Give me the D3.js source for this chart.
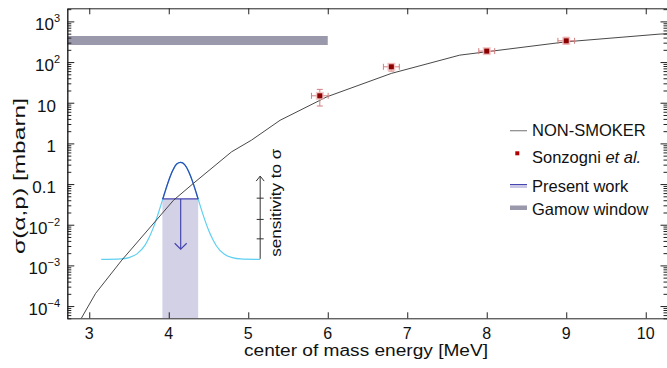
<!DOCTYPE html>
<html>
  <head>
    <meta charset="utf-8" />
    <script src="https://d3js.org/d3.v7.min.js"></script>
    <style>
      body { margin: 0; background: #fff; }
      text { font-family: "Liberation Sans", Arial, sans-serif; fill: #111; }
    </style>
  </head>
  <body>
    <script>
      // --- data ---
      const energyTicks = [3, 4, 5, 6, 7, 8, 9, 10];
      const sigmaTicks = [1e-4, 1e-3, 1e-2, 0.1, 1, 10, 100, 1000];
      const sigmaTickLabels = [["10", "\u22124"], ["10", "\u22123"], ["10", "\u22122"], ["0.1", ""], ["1", ""], ["10", ""], ["10", "2"], ["10", "3"]];

      // NON-SMOKER calculation
      const nonSmokerE = [2.90, 3.08, 3.41, 4.06, 4.31, 4.79, 5.04, 5.40, 5.99, 6.80, 7.66, 9.00, 10.18, 10.30];
      const nonSmokerSigma = [5.0e-5, 2.05e-4, 1.35e-3, 0.040, 0.104, 0.62, 1.2, 3.7, 14, 52.6, 148, 315, 488, 500];

      // Sonzogni et al. data points
      const sonzE = [5.90, 6.80, 8.00, 9.00];
      const sonzEerr = [0.105, 0.10, 0.10, 0.105];
      const sonzSigma = [14.8, 76.5, 186, 333];
      const sonzLo = [8.3, 60, 160, 277];
      const sonzHi = [21.3, 90.6, 208, 405];

      // present work: sensitivity profile and upper limit
      const profileE = [3.15, 3.40, 3.50, 3.60, 3.70, 3.75, 3.80, 3.85, 3.90, 3.95, 4.00, 4.05, 4.10, 4.15, 4.20, 4.25, 4.30, 4.35, 4.40, 4.45, 4.50, 4.55, 4.60, 4.70, 4.80, 4.90, 5.15];
      const profileSigma = [1.4e-3, 1.44e-3, 1.55e-3, 1.92e-3, 3.1e-3, 4.7e-3, 7.9e-3, 0.0149, 0.030, 0.062, 0.123, 0.215, 0.31, 0.34, 0.30, 0.204, 0.115, 0.057, 0.0275, 0.0137, 7.4e-3, 4.5e-3, 3.0e-3, 1.87e-3, 1.55e-3, 1.44e-3, 1.4e-3];
      const limitE = [3.92, 4.37];
      const limitSigma = 0.043;
      const arrowE = 4.15;
      const arrowTo = 2.5e-3;

      // sensitivity scale
      const sensE = 5.15;
      const sensRange = [1.45e-3, 0.157];
      const sensTicks = [4.5e-3, 0.0135, 0.045];

      // Gamow window
      const gamowE = [2.5, 6.0];
      const gamowSigma = 340;

      const legendLabels = ["NON-SMOKER", "Sonzogni", "Present work", "Gamow window"];

      // --- layout ---
      const width = 667, height = 368;
      const x = d3.scaleLinear().domain([2.72, 10.28]).range([67, 668]);
      const y = d3.scaleLog().domain([5e-5, 2100]).range([318.3, 8.3]);

      const svg = d3.select("body").append("svg")
        .attr("width", width).attr("height", height);

      svg.append("clipPath").attr("id", "plot")
        .append("rect").attr("x", 67).attr("y", 8.3).attr("width", 601).attr("height", 310);

      const plot = svg.append("g").attr("clip-path", "url(#plot)");

      // Gamow window band
      plot.append("line")
        .attr("x1", x(gamowE[0])).attr("x2", x(gamowE[1]))
        .attr("y1", y(gamowSigma)).attr("y2", y(gamowSigma))
        .attr("stroke", "#9a98ab").attr("stroke-width", 9);

      // present work shaded region
      plot.append("rect")
        .attr("x", x(limitE[0])).attr("width", x(limitE[1]) - x(limitE[0]))
        .attr("y", y(limitSigma)).attr("height", 318.3 - y(limitSigma))
        .attr("fill", "#d3d1e6");

      // profile: cyan everywhere, dark blue above the limit
      const profile = profileE.map((e, i) => [e, profileSigma[i]]);
      const profLine = d3.line().x(d => x(d[0])).y(d => y(d[1])).curve(d3.curveMonotoneX);
      plot.append("path").attr("d", profLine(profile))
        .attr("fill", "none").attr("stroke", "#5fd0f2").attr("stroke-width", 1.2);
      svg.append("clipPath").attr("id", "above")
        .append("rect").attr("x", 67).attr("y", 0).attr("width", 601).attr("height", y(limitSigma));
      svg.append("g").attr("clip-path", "url(#above)")
        .append("path").attr("d", profLine(profile))
        .attr("fill", "none").attr("stroke", "#2c4fb4").attr("stroke-width", 1.3);

      // upper limit line and arrow
      plot.append("line")
        .attr("x1", x(limitE[0])).attr("x2", x(limitE[1]))
        .attr("y1", y(limitSigma)).attr("y2", y(limitSigma))
        .attr("stroke", "#4646b0").attr("stroke-width", 1.3);
      plot.append("line")
        .attr("x1", x(arrowE)).attr("x2", x(arrowE))
        .attr("y1", y(limitSigma)).attr("y2", y(arrowTo))
        .attr("stroke", "#4646b0").attr("stroke-width", 1.2);
      plot.append("path")
        .attr("d", `M${x(arrowE) - 6},${y(arrowTo) - 6}L${x(arrowE)},${y(arrowTo)}L${x(arrowE) + 6},${y(arrowTo) - 6}`)
        .attr("fill", "none").attr("stroke", "#4646b0").attr("stroke-width", 1.2);

      // NON-SMOKER curve
      const ns = nonSmokerE.map((e, i) => [e, nonSmokerSigma[i]]);
      plot.append("path")
        .attr("d", d3.line().x(d => x(d[0])).y(d => y(d[1]))(ns))
        .attr("fill", "none").attr("stroke", "#333").attr("stroke-width", 0.9);

      // sensitivity scale
      const sx = x(sensE);
      svg.append("line").attr("x1", sx).attr("x2", sx)
        .attr("y1", y(sensRange[0])).attr("y2", y(sensRange[1]))
        .attr("stroke", "#333").attr("stroke-width", 1);
      svg.append("path")
        .attr("d", `M${sx - 4},${y(sensRange[1]) + 5}L${sx},${y(sensRange[1])}L${sx + 4},${y(sensRange[1]) + 5}`)
        .attr("fill", "none").attr("stroke", "#333").attr("stroke-width", 1);
      svg.selectAll(".sens-tick").data(sensTicks).join("line")
        .attr("class", "sens-tick")
        .attr("x1", sx - 3.5).attr("x2", sx + 3.5)
        .attr("y1", d => y(d)).attr("y2", d => y(d))
        .attr("stroke", "#333");
      svg.append("text")
        .attr("transform", `translate(281,${y(sensRange[0]) - 2}) rotate(-90)`)
        .attr("font-size", 15).attr("textLength", 108).attr("lengthAdjust", "spacingAndGlyphs")
        .text("sensitivity to \u03c3");

      // Sonzogni et al. points
      const sonz = svg.append("g").attr("clip-path", "url(#plot)");
      sonzE.forEach((e, i) => {
        const cx = x(e), cy = y(sonzSigma[i]);
        const g = sonz.append("g").attr("stroke", "#d37f7f").attr("stroke-width", 1);
        g.append("line").attr("x1", x(e - sonzEerr[i])).attr("x2", x(e + sonzEerr[i])).attr("y1", cy).attr("y2", cy);
        g.append("line").attr("x1", cx).attr("x2", cx).attr("y1", y(sonzLo[i])).attr("y2", y(sonzHi[i]));
        [e - sonzEerr[i], e + sonzEerr[i]].forEach(v => g.append("line")
          .attr("x1", x(v)).attr("x2", x(v)).attr("y1", cy - 3).attr("y2", cy + 3));
        [sonzLo[i], sonzHi[i]].forEach(v => g.append("line")
          .attr("x1", cx - 3).attr("x2", cx + 3).attr("y1", y(v)).attr("y2", y(v)));
        sonz.append("rect").attr("x", cx - 4).attr("y", cy - 4).attr("width", 8).attr("height", 8)
          .attr("fill", "#f2b9b9").attr("opacity", 0.8);
        sonz.append("rect").attr("x", cx - 2.5).attr("y", cy - 2.5).attr("width", 5).attr("height", 5)
          .attr("fill", "#8b0000");
      });

      // --- axes ---
      const axisColor = "#222";
      const minor = y.ticks().filter(v => !sigmaTicks.includes(v));

      function styleAxis(g) {
        g.select(".domain").attr("stroke", axisColor);
        g.selectAll(".tick line").attr("stroke", axisColor);
        g.selectAll(".tick text").remove();
      }

      svg.append("g").attr("transform", "translate(0,318.3)")
        .call(d3.axisBottom(x).tickValues(energyTicks).tickSizeInner(-6).tickSizeOuter(0)).call(styleAxis);
      svg.append("g").attr("transform", "translate(0,8.3)")
        .call(d3.axisTop(x).tickValues(energyTicks).tickSizeInner(-6).tickSizeOuter(0)).call(styleAxis);
      svg.append("g").attr("transform", "translate(67.3,0)")
        .call(d3.axisLeft(y).tickValues(sigmaTicks).tickSizeInner(-7).tickSizeOuter(0)).call(styleAxis);
      svg.append("g").attr("transform", "translate(67.3,0)")
        .call(d3.axisLeft(y).tickValues(minor).tickSizeInner(-4).tickSizeOuter(0)).call(styleAxis);
      svg.append("g").attr("transform", "translate(667.5,0)")
        .call(d3.axisRight(y).tickValues(sigmaTicks).tickSizeInner(-7).tickSizeOuter(0)).call(styleAxis);
      svg.append("g").attr("transform", "translate(667.5,0)")
        .call(d3.axisRight(y).tickValues(minor).tickSizeInner(-4).tickSizeOuter(0)).call(styleAxis);

      // x tick labels
      svg.selectAll(".xlab").data(energyTicks).join("text")
        .attr("class", "xlab")
        .attr("x", d => x(d)).attr("y", 338.5)
        .attr("text-anchor", "middle").attr("font-size", 16)
        .text(d => d);

      // y tick labels with superscripts
      sigmaTicks.forEach((v, i) => {
        const [base, sup] = sigmaTickLabels[i];
        const t = svg.append("text")
          .attr("x", sup ? 60 : 56).attr("y", y(v) + 9)
          .attr("text-anchor", "end").attr("font-size", 17);
        t.append("tspan").text(base);
        if (sup) t.append("tspan").attr("font-size", 11).attr("dy", -8).text(sup);
      });

      // axis titles
      svg.append("text")
        .attr("x", 244).attr("y", 356)
        .attr("font-size", 16).attr("textLength", 244).attr("lengthAdjust", "spacingAndGlyphs")
        .text("center of mass energy [MeV]");
      svg.append("text")
        .attr("transform", "translate(25,254) rotate(-90)")
        .attr("font-size", 17).attr("textLength", 156).attr("lengthAdjust", "spacingAndGlyphs")
        .text("\u03c3(\u03b1,p) [mbarn]");

      // --- legend ---
      const lg = svg.append("g");
      lg.append("line").attr("x1", 510).attr("x2", 527).attr("y1", 130.7).attr("y2", 130.7)
        .attr("stroke", "#888").attr("stroke-width", 1.2);
      lg.append("rect").attr("x", 515.3).attr("y", 151.3).attr("width", 4).attr("height", 4).attr("fill", "#b00000");
      lg.append("rect").attr("x", 510).attr("y", 184.5).attr("width", 17).attr("height", 3.5).attr("fill", "#c9c7e4");
      lg.append("line").attr("x1", 510).attr("x2", 527).attr("y1", 184.5).attr("y2", 184.5)
        .attr("stroke", "#4646b0").attr("stroke-width", 1);
      lg.append("rect").attr("x", 510).attr("y", 205.5).attr("width", 17).attr("height", 4.5).attr("fill", "#9a98ab");

      const legendY = [136, 162.5, 191.5, 215];
      legendLabels.forEach((s, i) => {
        const t = lg.append("text").attr("x", 532).attr("y", legendY[i]).attr("font-size", 16.5).text(s);
        if (i === 1) t.append("tspan").attr("font-style", "italic").text(" et al.");
      });
    </script>
  </body>
</html>
